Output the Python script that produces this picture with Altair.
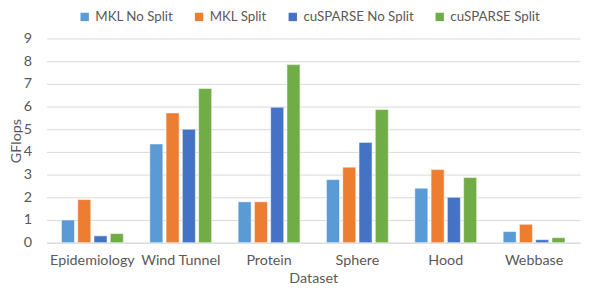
import altair as alt
import pandas as pd

datasets = ["Epidemiology", "Wind Tunnel", "Protein", "Sphere", "Hood", "Webbase"]
series = ["MKL No Split", "MKL Split", "cuSPARSE No Split", "cuSPARSE Split"]
mkl_no_split = [1.0, 4.35, 1.8, 2.78, 2.4, 0.49]
mkl_split = [1.9, 5.72, 1.8, 3.33, 3.22, 0.81]
cusparse_no_split = [0.3, 5.0, 5.97, 4.42, 2.0, 0.13]
cusparse_split = [0.4, 6.8, 7.85, 5.87, 2.87, 0.22]
colors = ["#5B9BD5", "#ED7D31", "#4472C4", "#70AD47"]

rows = []
for s, vals in zip(series, [mkl_no_split, mkl_split, cusparse_no_split, cusparse_split]):
    for d, v in zip(datasets, vals):
        rows.append({"Dataset": d, "Series": s, "GFlops": v})
df = pd.DataFrame(rows)

font = "Lato"
gray = "#595959"
fs = 14.5

chart = alt.Chart(df).mark_bar(stroke="white", strokeWidth=0.5).encode(
    x=alt.X("Dataset:N", sort=datasets, title="Dataset",
            scale=alt.Scale(paddingInner=0.3, paddingOuter=0.17),
            axis=alt.Axis(labelAngle=0, ticks=False, domainColor="#d9d9d9",
                          labelPadding=11, titlePadding=5, labelFontSize=fs,
                          titleFontSize=fs, labelColor=gray, titleColor=gray,
                          labelFont=font, titleFont=font, titleFontWeight="normal")),
    xOffset=alt.XOffset("Series:N", sort=series, scale=alt.Scale(paddingInner=0.2)),
    y=alt.Y("GFlops:Q", title="GFlops",
            scale=alt.Scale(domain=[0, 9]),
            axis=alt.Axis(values=list(range(10)), domain=False, ticks=False,
                          gridColor="#d9d9d9", labelPadding=15,
                          titleX=-30, titleY=103.5, titleAngle=270,
                          titleBaseline="middle", titleAlign="center",
                          labelFontSize=fs, titleFontSize=fs, labelColor=gray,
                          titleColor=gray, labelFont=font, titleFont=font,
                          titleFontWeight="normal")),
    color=alt.Color("Series:N", sort=series, title=None,
                    scale=alt.Scale(domain=series, range=colors),
                    legend=alt.Legend(orient="none", direction="horizontal",
                                      legendX=32, legendY=-29, symbolType="square",
                                      symbolSize=72, labelFontSize=13.5, labelColor=gray,
                                      labelFont=font, columnPadding=19, labelOffset=4,
                                      symbolStrokeWidth=0)),
).properties(
    width=541, height=207,
    autosize=alt.AutoSizeParams(type="none"),
    padding={"left": 39, "top": 29, "right": 1, "bottom": 42},
).configure_view(stroke=None)

chart.save("out.html", embed_options={"renderer": "svg", "actions": False})
